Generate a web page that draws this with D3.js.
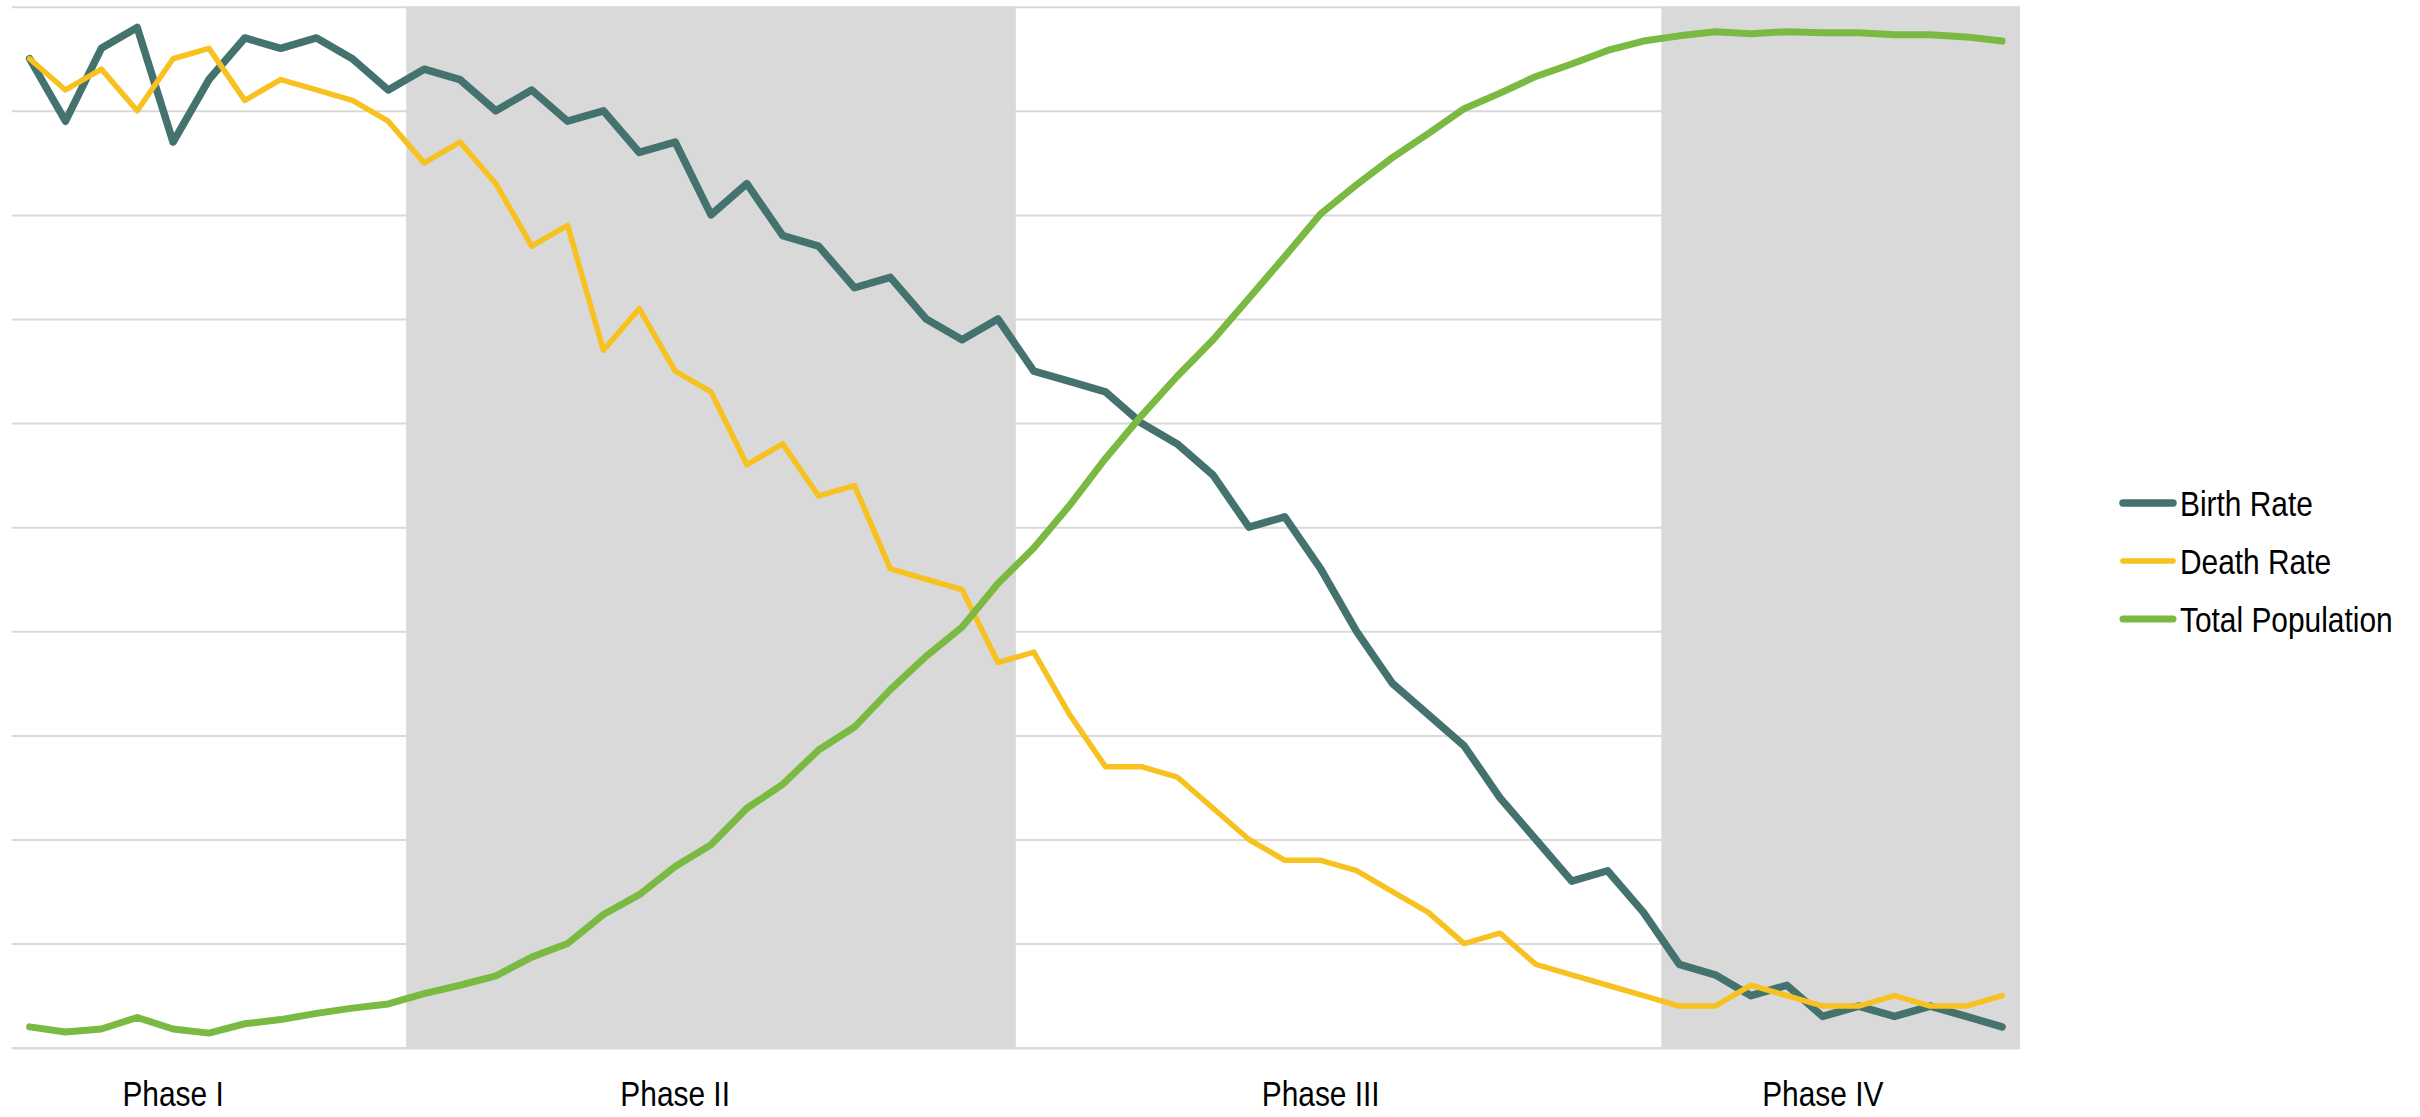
<!DOCTYPE html>
<html lang="en">
<head>
  <meta charset="UTF-8" />
  <title>Demographic Transition</title>
  <script src="https://d3js.org/d3.v7.min.js"></script>
  <style>
    html, body {
      margin: 0;
      padding: 0;
      background: #fff;
    }

    svg {
      display: block;
      font-family: 'Liberation Sans Narrow', 'Arial Narrow', 'Liberation Sans', Arial, sans-serif;
    }

    .grid line {
      stroke: #d9d9d9;
      stroke-width: 2px;
    }

    .series {
      fill: none;
      stroke-linejoin: round;
      stroke-linecap: round;
    }
  </style>
</head>
<body>

<svg id="chart" width="2420" height="1117"></svg>

<script>
  // 56 time steps along the x axis
  const periods = d3.range(1, 57);

  const birthRate = [
    95, 89, 96, 98, 87, 93, 97, 96, 97, 95, 92,
    94, 93, 90, 92, 89, 90, 86, 87, 80, 83, 78, 77, 73, 74, 70, 68, 70,
    65, 64, 63, 60, 58, 55, 50, 51, 46, 40, 35, 32, 29, 24, 20, 16, 17, 13,
    8, 7, 5, 6, 3, 4, 3, 4, 3, 2
  ];

  const deathRate = [
    95, 92, 94, 90, 95, 96, 91, 93, 92, 91, 89,
    85, 87, 83, 77, 79, 67, 71, 65, 63, 56, 58, 53, 54, 46, 45, 44, 37,
    38, 32, 27, 27, 26, 23, 20, 18, 18, 17, 15, 13, 10, 11, 8, 7, 6, 5,
    4, 4, 6, 5, 4, 4, 5, 4, 4, 5
  ];

  const totalPopulation = [
    2.0, 1.5, 1.8, 2.9, 1.8, 1.4, 2.3, 2.7, 3.3, 3.8, 4.2,
    5.2, 6.0, 6.9, 8.7, 10.0, 12.8, 14.7, 17.4, 19.5, 23.0, 25.3, 28.6, 30.8, 34.4, 37.6, 40.4, 44.6,
    48.0, 52.1, 56.6, 60.7, 64.5, 68.0, 72.0, 76.0, 80.1, 82.9, 85.5, 87.8, 90.2, 91.7, 93.3, 94.5, 95.8, 96.7,
    97.2, 97.6, 97.4, 97.6, 97.5, 97.5, 97.3, 97.3, 97.1, 96.7
  ];

  // phases: first / last period index, where the label sits, shaded or not
  const phaseNames   = ["Phase I", "Phase II", "Phase III", "Phase IV"];
  const phaseFirst   = [0, 11, 28, 46];
  const phaseLast    = [10, 27, 45, 55];
  const phaseLabelAt = [4, 18, 36, 50];
  const phaseShaded  = [false, true, false, true];

  const seriesNames  = ["Birth Rate", "Death Rate", "Total Population"];
  const seriesValues = [birthRate, deathRate, totalPopulation];
  const seriesColors = ["#44736f", "#f7c11f", "#7aba42"];
  const seriesWidths = [7.5, 5.5, 7];

  const svg = d3.select("#chart");

  const plot = { left: 11.7, right: 2020, top: 6.7, bottom: 1047.7 };

  const x = d3.scaleBand()
    .domain(periods)
    .range([plot.left, plot.right])
    .padding(0);

  const y = d3.scaleLinear()
    .domain([0, 100])
    .range([plot.bottom, plot.top]);

  const cx = i => x(periods[i]) + x.bandwidth() / 2;

  // no narrow font installed, so the regular one is squeezed sideways
  const squeeze = 0.83;

  // horizontal gridlines
  const grid = svg.append("g")
    .attr("class", "grid")
    .attr("transform", `translate(${plot.left},0)`)
    .call(d3.axisLeft(y).ticks(10).tickSize(-(plot.right - plot.left)).tickFormat(""));
  grid.select(".domain").remove();

  // shaded phase bands
  svg.append("g")
    .selectAll("rect")
    .data(phaseNames.map((n, i) => i).filter(i => phaseShaded[i]))
    .enter().append("rect")
    .attr("x", i => x(periods[phaseFirst[i]]))
    .attr("width", i => x(periods[phaseLast[i]]) + x.bandwidth() - x(periods[phaseFirst[i]]))
    .attr("y", plot.top)
    .attr("height", plot.bottom - plot.top)
    .attr("fill", "#d9d9d9");

  // category axis, only the phase names are shown
  const labelFor = {};
  phaseLabelAt.forEach((p, i) => { labelFor[periods[p]] = phaseNames[i]; });

  const xAxis = svg.append("g")
    .attr("transform", `translate(0,${plot.bottom})`)
    .call(d3.axisBottom(x).tickSize(0).tickSizeOuter(0).tickFormat(d => labelFor[d] || ""));

  xAxis.select(".domain")
    .attr("stroke", "#d9d9d9")
    .attr("stroke-width", 2);

  xAxis.selectAll("text")
    .attr("y", null)
    .attr("dy", 0)
    .attr("transform", `translate(0,58) scale(${squeeze},1)`)
    .attr("fill", "#000")
    .attr("font-size", 36)
    .attr("font-family", null);

  // series lines
  const line = d3.line()
    .x((d, i) => cx(i))
    .y(d => y(d));

  svg.append("g")
    .selectAll("path")
    .data(seriesValues)
    .enter().append("path")
    .attr("class", "series")
    .attr("d", d => line(d))
    .attr("stroke", (d, i) => seriesColors[i])
    .attr("stroke-width", (d, i) => seriesWidths[i]);

  // legend
  const legend = svg.append("g")
    .attr("transform", "translate(2123,503)");

  const item = legend.selectAll("g")
    .data(seriesNames)
    .enter().append("g")
    .attr("transform", (d, i) => `translate(0,${i * 58})`);

  item.append("line")
    .attr("x1", 0)
    .attr("x2", 50)
    .attr("stroke", (d, i) => seriesColors[i])
    .attr("stroke-width", (d, i) => seriesWidths[i])
    .attr("stroke-linecap", "round");

  item.append("text")
    .attr("transform", `translate(57,12.7) scale(${squeeze},1)`)
    .attr("font-size", 36)
    .attr("fill", "#000")
    .text(d => d);
</script>

</body>
</html>
